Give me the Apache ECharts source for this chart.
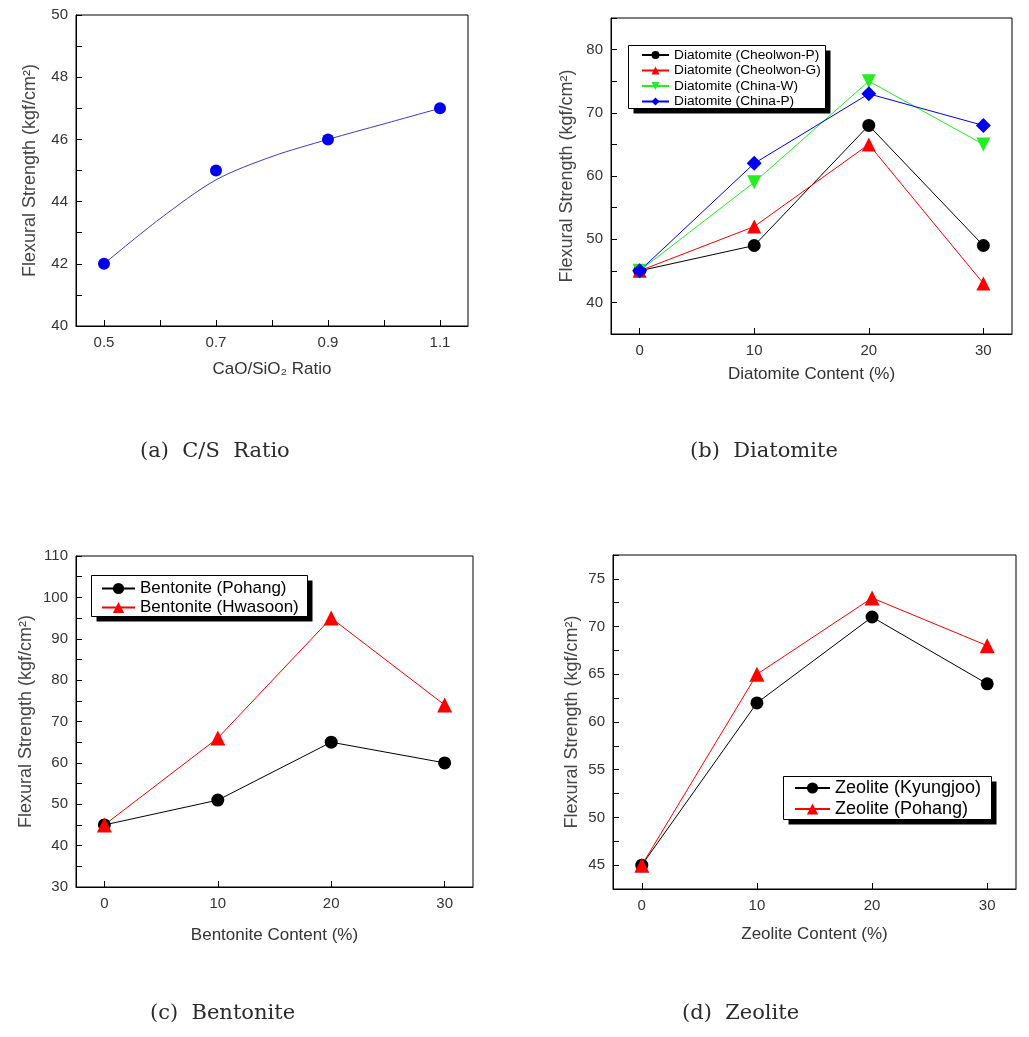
<!DOCTYPE html>
<html><head><meta charset="utf-8">
<script src="https://cdn.jsdelivr.net/npm/echarts@6/dist/echarts.min.js"></script>
<style>html,body{margin:0;padding:0;background:#fff}#c{width:1029px;height:1037px}</style>
</head><body><div id="c"></div>
<script>
// (a) C/S ratio
var ratioX = [0.5, 0.7, 0.9, 1.1];
var ratioStrength = [42, 45, 46, 47];
// fitted curve
var fitX = [0.5, 0.6, 0.7, 0.8, 0.9, 1.0, 1.1];
var fitY = [42, 43.45, 44.7, 45.45, 46, 46.5, 47];
// content levels
var contentX = [0, 10, 20, 30];
// (b) Diatomite
var diaCheolwonP = [45, 49, 68, 49];
var diaCheolwonG = [45, 52, 65, 43];
var diaChinaW = [45, 59, 75, 65];
var diaChinaP = [45, 62, 73, 68];
// (c) Bentonite
var benPohang = [45, 51, 65, 60];
var benHwasoon = [45, 66, 95, 74];
// (d) Zeolite
var zeoKyungjoo = [45, 62, 71, 64];
var zeoPohang = [45, 65, 73, 68];
// tick labels
var ticksXa = [0.5, 0.7, 0.9, 1.1];
var minorXa = [0.6, 0.8, 1.0];
var ticksYa = [40, 42, 44, 46, 48, 50];
var minorYa = [41, 43, 45, 47, 49];
var ticksXc = [0, 10, 20, 30];
var ticksYb = [40, 50, 60, 70, 80];
var minorYb = [35, 45, 55, 65, 75, 85];
var ticksYc = [30, 40, 50, 60, 70, 80, 90, 100, 110];
var minorYc = [35, 45, 55, 65, 75, 85, 95, 105];
var ticksYd = [45, 50, 55, 60, 65, 70, 75];
var minorYd = [47.5, 52.5, 57.5, 62.5, 67.5, 72.5, 77.5];

var FONT = 'Liberation Sans, Arial, sans-serif';
var YNAME = 'Flexural Strength (kgf/cm²)';

function pairs(xs, ys){ return xs.map(function(x,i){ return [x, ys[i]]; }); }

function xAxis(idx, min, max, labels, minor, name, gap, fmt){
  return {type:'value', gridIndex:idx, min:min, max:max,
    name:name, nameLocation:'middle', nameGap:gap,
    nameTextStyle:{fontFamily:FONT, fontSize:17, color:'#333'},
    axisLine:{show:true, onZero:false, lineStyle:{color:'#000', width:1}},
    axisTick:{show:true, inside:true, length:6, customValues:labels.concat(minor), lineStyle:{color:'#000'}},
    axisLabel:{show:true, margin:9, customValues:labels, fontFamily:FONT, fontSize:15, color:'#333',
      formatter: fmt || function(v){ return String(v); }},
    splitLine:{show:false}};
}
function yAxis(idx, min, max, labels, minor, gap){
  return {type:'value', gridIndex:idx, min:min, max:max,
    name:YNAME, nameLocation:'middle', nameGap:gap, nameRotate:90,
    nameTextStyle:{fontFamily:FONT, fontSize:18, color:'#444'},
    axisLine:{show:true, onZero:false, lineStyle:{color:'#000', width:1}},
    axisTick:{show:true, inside:true, length:6, customValues:labels.concat(minor), lineStyle:{color:'#000'}},
    axisLabel:{show:true, margin:8, customValues:labels, fontFamily:FONT, fontSize:15, color:'#333'},
    splitLine:{show:false}};
}
function lineSeries(name, idx, xs, ys, color, symbol, size){
  return {type:'line', name:name, xAxisIndex:idx, yAxisIndex:idx, data:pairs(xs, ys),
    symbol:symbol, symbolSize:size, showSymbol:true,
    lineStyle:{color:color, width:1}, itemStyle:{color:color, opacity:1}, z:3};
}
function legend(names, left, top, fs, ih, gap, iw){
  return {show:true, orient:'vertical', left:left, top:top, data:names, z:20,
    itemWidth:iw, itemHeight:ih, itemGap:gap, padding:0,
    backgroundColor:'transparent', borderWidth:0,
    textStyle:{fontFamily:FONT, fontSize:fs, color:'#000'},
    selectedMode:false};
}
function frame(x, y, w, h){
  return [
    {type:'rect', z:15, shape:{x:x+5, y:y+5, width:w, height:h}, style:{fill:'#000'}},
    {type:'rect', z:16, shape:{x:x, y:y, width:w, height:h}, style:{fill:'#fff', stroke:'#000', lineWidth:1}}
  ];
}

var chart = echarts.init(document.getElementById('c'), null, {renderer:'canvas'});
var cap = {fontFamily:'DejaVu Serif, serif', fontSize:21, fill:'#2a2a2a'};
var graphics = []
  .concat(frame(628.5, 45.5, 197, 63))
  .concat(frame(91.5, 575.5, 216, 41))
  .concat(frame(783.5, 776.5, 208, 43))
  .concat([
    {type:'text', left:140, top:441, style:Object.assign({text:'(a)  C/S  Ratio'}, cap)},
    {type:'text', left:690, top:441, style:Object.assign({text:'(b)  Diatomite'}, cap)},
    {type:'text', left:150, top:1003, style:Object.assign({text:'(c)  Bentonite'}, cap)},
    {type:'text', left:682, top:1003, style:Object.assign({text:'(d)  Zeolite'}, cap)}
  ]);

chart.setOption({
  animation:false,
  backgroundColor:'#fff',
  grid:[
    {left:76, top:15, width:392, height:311, show:true, borderColor:'#000', borderWidth:1, backgroundColor:'transparent'},
    {left:611, top:18, width:401, height:316, show:true, borderColor:'#000', borderWidth:1, backgroundColor:'transparent'},
    {left:76, top:556, width:397, height:331, show:true, borderColor:'#000', borderWidth:1, backgroundColor:'transparent'},
    {left:613, top:555, width:403, height:334, show:true, borderColor:'#000', borderWidth:1, backgroundColor:'transparent'}
  ],
  xAxis:[
    xAxis(0, 0.45, 1.15, ticksXa, minorXa, 'CaO/SiO₂ Ratio', 35, function(v){ return v.toFixed(1); }),
    xAxis(1, -2.5, 32.5, ticksXc, [], 'Diatomite Content (%)', 32),
    xAxis(2, -2.5, 32.5, ticksXc, [], 'Bentonite Content (%)', 40),
    xAxis(3, -2.5, 32.5, ticksXc, [], 'Zeolite Content (%)', 37)
  ],
  yAxis:[
    yAxis(0, 40, 50, ticksYa, minorYa, 37),
    yAxis(1, 35, 85, ticksYb, minorYb, 35),
    yAxis(2, 30, 110, ticksYc, minorYc, 41),
    yAxis(3, 42.5, 77.5, ticksYd, minorYd, 31.5)
  ],
  legend:[
    legend(['Diatomite (Cheolwon-P)','Diatomite (Cheolwon-G)','Diatomite (China-W)','Diatomite (China-P)'], 641, 48, 13.7, 10, 1.5, 27),
    legend(['Bentonite (Pohang)','Bentonite (Hwasoon)'], 101, 580, 17, 14, 2, 33),
    legend(['Zeolite (Kyungjoo)','Zeolite (Pohang)'], 794, 779, 18, 14, 3, 35)
  ],
  series:[
    {type:'line', name:'fit', xAxisIndex:0, yAxisIndex:0, data:pairs(fitX, fitY), smooth:0.3,
      showSymbol:false, symbol:'none', lineStyle:{color:'#3a3acc', width:1}, z:2},
    {type:'scatter', name:'C/S', xAxisIndex:0, yAxisIndex:0, data:pairs(ratioX, ratioStrength),
      symbol:'circle', symbolSize:12, itemStyle:{color:'#0000ee', opacity:1}, z:3},
    lineSeries('Diatomite (Cheolwon-P)', 1, contentX, diaCheolwonP, '#000000', 'circle', 13),
    lineSeries('Diatomite (Cheolwon-G)', 1, contentX, diaCheolwonG, '#ff0000', 'triangle', 14),
    lineSeries('Diatomite (China-W)', 1, contentX, diaChinaW, '#22ee22', 'path://M0,0 L10,0 L5,9 Z', 14),
    lineSeries('Diatomite (China-P)', 1, contentX, diaChinaP, '#0000ee', 'diamond', 15),
    lineSeries('Bentonite (Pohang)', 2, contentX, benPohang, '#000000', 'circle', 13),
    lineSeries('Bentonite (Hwasoon)', 2, contentX, benHwasoon, '#ff0000', 'triangle', 15),
    lineSeries('Zeolite (Kyungjoo)', 3, contentX, zeoKyungjoo, '#000000', 'circle', 13),
    lineSeries('Zeolite (Pohang)', 3, contentX, zeoPohang, '#ff0000', 'triangle', 15)
  ],
  graphic: graphics
});
</script></body></html>
